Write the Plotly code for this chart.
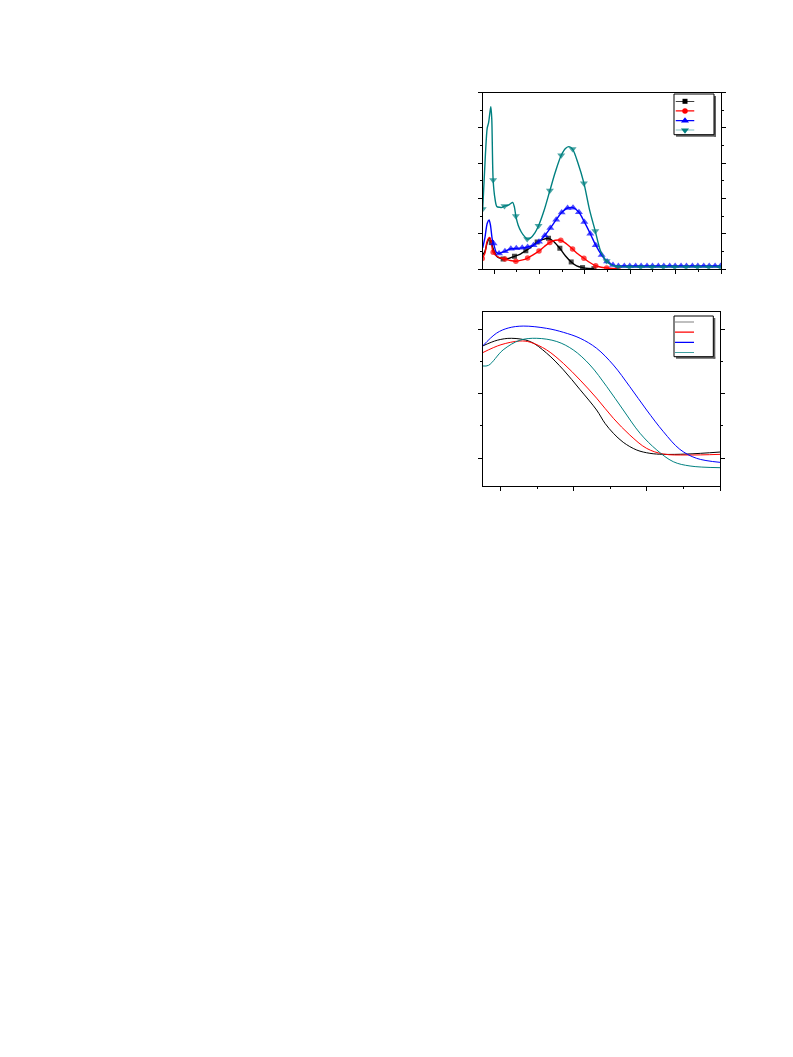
import plotly.graph_objects as go

# ---------------- top panel data ----------------
black_x = [275, 280, 285, 290, 294, 300, 307, 315, 320, 330, 345, 358, 370, 382, 395, 408, 420, 432, 445, 457, 470, 482, 495, 508, 520]
black_y = [0.08, 0.10, 0.15, 0.175, 0.15, 0.10, 0.07, 0.06, 0.057, 0.058, 0.072, 0.085, 0.104, 0.125, 0.153, 0.168, 0.174, 0.155, 0.117, 0.075, 0.04, 0.018, 0.008, 0.003, 0.002]
black_m = [294, 320, 345, 370, 395, 420, 445, 470, 495, 520]

red_x = [274, 280, 284, 288, 291, 294, 298, 305, 312, 324, 336, 348, 361, 374, 386, 399, 411, 423, 435, 447, 460, 473, 485, 498, 511, 524, 536, 548, 560, 573]
red_y = [0.06, 0.09, 0.15, 0.175, 0.178, 0.15, 0.095, 0.075, 0.065, 0.057, 0.048, 0.044, 0.05, 0.062, 0.08, 0.102, 0.128, 0.151, 0.163, 0.163, 0.142, 0.113, 0.085, 0.061, 0.037, 0.019, 0.01, 0.006, 0.003, 0.002]
red_m = [274, 298, 324, 348, 374, 399, 423, 447, 473, 498, 524, 548, 573]

blue_x = [275, 280, 285, 289, 292, 296, 299, 305, 311, 318, 324, 337, 349, 362, 374, 387, 399, 412, 424, 437, 449, 462, 474, 487, 499, 512, 524, 537, 549, 562,
          574, 587, 599, 612, 624, 637, 649, 662, 674, 687, 699, 712, 724, 737, 749, 762, 774, 787, 799]
blue_y = [0.12, 0.18, 0.26, 0.278, 0.25, 0.17, 0.145, 0.095, 0.088, 0.095, 0.10, 0.115, 0.117, 0.12, 0.125, 0.135, 0.155, 0.19, 0.232, 0.28, 0.32, 0.346, 0.348, 0.322, 0.267, 0.20, 0.135, 0.079, 0.042, 0.022,
          0.017, 0.017, 0.017, 0.017, 0.017, 0.017, 0.017, 0.017, 0.017, 0.017, 0.017, 0.017, 0.017, 0.017, 0.017, 0.017, 0.017, 0.017, 0.017]
blue_m = [299, 311, 324, 337, 349, 362, 374, 387, 399, 412, 424, 437, 449, 462, 474, 487, 499, 512, 524, 537, 549, 562,
          574, 587, 599, 612, 624, 637, 649, 662, 674, 687, 699, 712, 724, 737, 749, 762, 774, 787, 799]

teal_x = [275, 281, 285, 288, 291, 293, 295, 298, 302, 306, 312, 318, 323, 330, 336, 341, 345, 348, 353, 360, 367, 373, 380, 390, 398, 410, 423, 435, 448, 458, 465, 473, 485, 498, 510, 523, 535, 548, 560,
          573, 598, 623, 648, 673, 698, 723, 748, 773, 798]
teal_y = [0.34, 0.65, 0.80, 0.83, 0.89, 0.92, 0.85, 0.505, 0.40, 0.355, 0.35, 0.35, 0.358, 0.36, 0.37, 0.378, 0.35, 0.30, 0.25, 0.21, 0.185, 0.170, 0.175, 0.205, 0.245, 0.33, 0.445, 0.55, 0.645, 0.685, 0.694, 0.68, 0.60, 0.487, 0.34, 0.215, 0.10, 0.045, 0.02,
          0.013, 0.012, 0.012, 0.012, 0.012, 0.012, 0.012, 0.012, 0.012, 0.012]
teal_m = [275, 298, 323, 348, 373, 398, 423, 448, 473, 498, 523, 548, 573, 598, 623, 648, 673, 698, 723, 748, 773, 798]

# ---------------- bottom panel data ----------------
b_black_x = [195, 199, 202.9, 208, 212.5, 217.1, 221.7, 226.2, 228.5, 230.8, 233.5, 237.2, 240.8, 244.5, 251, 260]
b_black_y = [1.741, 1.83, 1.86, 1.81, 1.63, 1.37, 1.06, 0.746, 0.539, 0.384, 0.244, 0.124, 0.073, 0.057, 0.062, 0.093]

b_red_x = [195, 200, 205.2, 208, 212.5, 217.1, 221.7, 226.2, 230.8, 235.3, 239.9, 244.5, 251, 260]
b_red_y = [1.637, 1.76, 1.818, 1.80, 1.68, 1.47, 1.21, 0.93, 0.617, 0.357, 0.15, 0.062, 0.047, 0.057]

b_blue_x = [195, 198.8, 202, 206.1, 212.5, 217.1, 221.7, 226.2, 230.8, 235.3, 239.9, 244.5, 249, 253.6, 260]
b_blue_y = [1.741, 1.94, 2.02, 2.05, 2.015, 1.953, 1.86, 1.705, 1.445, 1.108, 0.746, 0.409, 0.135, -0.005, -0.067]

b_teal_x = [195, 196.6, 200.6, 205.2, 209.8, 215.3, 219.8, 224.4, 229.0, 233.5, 238.1, 242.7, 247.2, 251.8, 260]
b_teal_y = [1.43, 1.44, 1.68, 1.83, 1.86, 1.81, 1.68, 1.445, 1.108, 0.746, 0.384, 0.124, -0.057, -0.124, -0.15]

colors = ["#000000", "#ff0000", "#0000ff", "#008080"]
symbols = ["square", "circle", "triangle-up", "triangle-down"]
msizes = [5, 5.5, 7, 7]
legend_rows = [3, 2, 1, 0]   # legend entry order, top to bottom

W, H = 793, 1057
OFF = 8  # page body margin


def px(x):
    return (x - OFF) / W


def py(y):
    return 1 - (y - OFF) / H


fig = go.Figure()

top = [(black_x, black_y, black_m), (red_x, red_y, red_m), (blue_x, blue_y, blue_m), (teal_x, teal_y, teal_m)]
for i, (xs, ys, ms) in enumerate(top):
    mset = set(ms)
    sizes = [msizes[i] if x in mset else 0 for x in xs]
    fig.add_trace(go.Scatter(
        x=xs, y=ys, mode="lines+markers", showlegend=False,
        line=dict(color=colors[i], width=1.4, shape="spline", smoothing=0.8),
        marker=dict(symbol=symbols[i], size=sizes, color=colors[i], line=dict(width=0)),
        xaxis="x", yaxis="y"))

bottom = [(b_black_x, b_black_y), (b_red_x, b_red_y), (b_blue_x, b_blue_y), (b_teal_x, b_teal_y)]
for i, (xs, ys) in enumerate(bottom):
    fig.add_trace(go.Scatter(
        x=xs, y=ys, mode="lines", showlegend=False,
        line=dict(color=colors[i], width=1, shape="spline", smoothing=1.0),
        xaxis="x2", yaxis="y2"))

# legend samples (drawn on small hidden axes)
for i in range(4):
    fig.add_trace(go.Scatter(
        x=[0, 0.5, 1], y=[legend_rows[i]] * 3, mode="lines", showlegend=False,
        line=dict(color=colors[i], width=1.3), xaxis="x3", yaxis="y3", cliponaxis=False, hoverinfo="skip"))
    fig.add_trace(go.Scatter(
        x=[0.5], y=[legend_rows[i]], mode="markers", showlegend=False,
        marker=dict(symbol=symbols[i], size=msizes[i], color=colors[i], line=dict(width=0)),
        xaxis="x3", yaxis="y3", cliponaxis=False, hoverinfo="skip"))
    fig.add_trace(go.Scatter(
        x=[0, 1], y=[legend_rows[i]] * 2, mode="lines", showlegend=False,
        line=dict(color=colors[i], width=1.3), xaxis="x4", yaxis="y4", cliponaxis=False, hoverinfo="skip"))

axis_common = dict(showgrid=False, zeroline=False, showline=True, linecolor="black", linewidth=1,
                   ticks="outside", ticklen=4, tickwidth=1, tickcolor="black", showticklabels=False)
hidden = dict(visible=False, showgrid=False, zeroline=False, fixedrange=True)

fig.update_layout(
    width=W, height=H, margin=dict(l=0, r=0, t=0, b=0),
    paper_bgcolor="white", plot_bgcolor="white", showlegend=False,
    xaxis=dict(domain=[px(482.7), px(721)], range=[275, 800], anchor="y", mirror=True,
               dtick=100, tick0=300, minor=dict(dtick=50, ticks="outside", ticklen=2, tickcolor="black"), **axis_common),
    yaxis=dict(domain=[py(269), py(92.7)], range=[0, 1], anchor="x", mirror="ticks",
               dtick=0.2, minor=dict(dtick=0.1, ticks="outside", ticklen=2, tickcolor="black"), **axis_common),
    xaxis2=dict(domain=[px(482.7), px(720)], range=[195, 260], anchor="y2", mirror=True,
                dtick=20, tick0=200, minor=dict(dtick=10, ticks="outside", ticklen=2, tickcolor="black"), **axis_common),
    yaxis2=dict(domain=[py(485.7), py(312.3)], range=[-0.43, 2.264], anchor="x2", mirror="ticks",
                dtick=1, tick0=0, minor=dict(dtick=0.5, ticks="outside", ticklen=2, tickcolor="black"), **axis_common),
    xaxis3=dict(domain=[px(675.5), px(694.5)], range=[0, 1], anchor="y3", **hidden),
    yaxis3=dict(domain=[py(130.3), py(101.3)], range=[0, 3], anchor="x3", **hidden),
    xaxis4=dict(domain=[px(675), px(694)], range=[0, 1], anchor="y4", **hidden),
    yaxis4=dict(domain=[py(352.7), py(321.7)], range=[0, 3], anchor="x4", **hidden),
)

# legend frames with drop shadow
for (x0, y0, x1, y1) in [(674, 94, 714, 134.7), (674, 316, 713.3, 356.7)]:
    fig.add_shape(type="rect", xref="paper", yref="paper", layer="above",
                  x0=px(x1), x1=px(x1 + 2), y0=py(y1 + 2), y1=py(y0 + 2),
                  fillcolor="#606060", line=dict(width=0))
    fig.add_shape(type="rect", xref="paper", yref="paper", layer="above",
                  x0=px(x0 + 2), x1=px(x1 + 2), y0=py(y1 + 2), y1=py(y1),
                  fillcolor="#606060", line=dict(width=0))
    fig.add_shape(type="rect", xref="paper", yref="paper", layer="above",
                  x0=px(x0), x1=px(x1), y0=py(y1), y1=py(y0),
                  line=dict(color="black", width=1), fillcolor="rgba(0,0,0,0)")

fig.write_html("out.html")
